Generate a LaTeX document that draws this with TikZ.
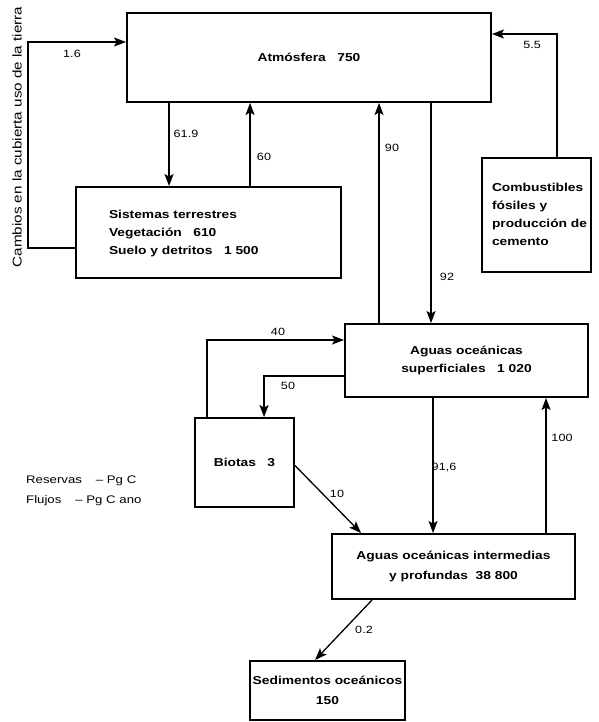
\documentclass[tikz,border=0pt]{standalone}
\usepackage{fontspec}
\setmainfont{Liberation Sans}[FakeStretch=1.2]
\usetikzlibrary{arrows.meta,calc}
\begin{document}
\begin{tikzpicture}[x=1pt,y=-1pt,
  box/.style={draw, line width=1.9pt, inner sep=0pt, align=center,
    font=\bfseries\fontsize{11.5}{18}\selectfont},
  flow/.style={line width=1.3pt, -{Stealth[length=12pt,width=9pt,inset=2.5pt]}},
  lbl/.style={inner sep=0pt, font=\fontsize{10.5}{12}\selectfont},
  legend/.style={inner sep=0pt, anchor=west, font=\fontsize{11}{12}\selectfont},
]
\useasboundingbox (0,0) rectangle (598,722);

% boxes
\node[box, minimum width=364pt, minimum height=89pt] (atm) at (309,57.5) {Atmósfera~~~750};
\node[box, minimum width=265pt, minimum height=91pt, text width=265pt, align=left] (sis) at (208.5,232.5)
  {\hspace*{33pt}\begin{tabular}{@{}l@{}}Sistemas terrestres\\Vegetación~~~610\\Suelo y detritos~~~1~500\end{tabular}};
\node[box, minimum width=109pt, minimum height=114pt, text width=109pt, align=left,
  font=\bfseries\fontsize{11.5}{17.8}\selectfont] (comb) at (536.5,215)
  {\hspace*{10pt}\begin{tabular}{@{}l@{}}Combustibles\\fósiles y\\producción de\\cemento\end{tabular}};
\node[box, minimum width=243pt, minimum height=73pt] (sup) at (466.5,360.5)
  {Aguas oceánicas\\superficiales~~~1~020};
\node[box, minimum width=99pt, minimum height=89pt] (bio) at (244.5,462.5) {Biotas~~~3};
\node[box, minimum width=243pt, minimum height=65pt, font=\bfseries\fontsize{11.5}{20}\selectfont] (int) at (453.5,566.5)
  {Aguas oceánicas intermedias\\y profundas~~38~800};
\node[box, minimum width=155pt, minimum height=59pt, font=\bfseries\fontsize{11.5}{20}\selectfont] (sed) at (327.5,690.5)
  {Sedimentos oceánicos\\150};

% side text and legend
\node[rotate=90, inner sep=0pt, font=\fontsize{12.7}{15}\selectfont] (cambio) at (17,137)
  {Cambios en la cubierta uso de la tierra};
\node[legend] (res) at (26,481) {Reservas\hspace{14pt}– Pg C};
\node[legend] (flu) at (26,501) {Flujos\hspace{14pt}– Pg C ano};

% connectors
\draw[flow] ([yshift=-15.5pt]sis.west) -- ++(-47pt,0) |- ([yshift=15.5pt]atm.west);
\draw[flow] ([xshift=43pt]atm.south west) -- ([xshift=43pt]atm.south west |- sis.north);
\draw[flow] ([xshift=175pt]sis.north west) -- ([xshift=175pt]sis.north west |- atm.south);
\draw[flow] ([xshift=35pt]sup.north west) -- ([xshift=35pt]sup.north west |- atm.south);
\draw[flow] ([xshift=305pt]atm.south west) -- ([xshift=305pt]atm.south west |- sup.north);
\draw[flow] ([xshift=20.5pt]comb.north) |- ([yshift=23.5pt]atm.east);
\draw[flow] ([xshift=13pt]bio.north west) |- ([yshift=20.5pt]sup.west);
\draw[flow] ([yshift=-15.5pt]sup.west) -| ([xshift=70pt]bio.north west);
\draw[flow] ([yshift=-3pt]bio.east) -- ([xshift=30pt]int.north west);
\draw[flow] ([xshift=89pt]sup.south west) -- ([xshift=89pt]sup.south west |- int.north);
\draw[flow] ([xshift=215pt]int.north west) -- ([xshift=215pt]int.north west |- sup.south);
\draw[flow] ([xshift=41pt]int.south west) -- ([xshift=66pt]sed.north west);

% flux labels
\node[lbl] (l16) at (72,54) {1.6};
\node[lbl] (l619) at (186,134) {61.9};
\node[lbl] (l60) at (264,157) {60};
\node[lbl] (l90) at (392,148) {90};
\node[lbl] (l92) at (447,277) {92};
\node[lbl] (l55) at (532,45) {5.5};
\node[lbl] (l40) at (278,332) {40};
\node[lbl] (l50) at (288,386) {50};
\node[lbl] (l10) at (337,494) {10};
\node[lbl] (l916) at (444,468) {91,6};
\node[lbl] (l100) at (562,438) {100};
\node[lbl] (l02) at (364,630) {0.2};
\end{tikzpicture}
\end{document}
